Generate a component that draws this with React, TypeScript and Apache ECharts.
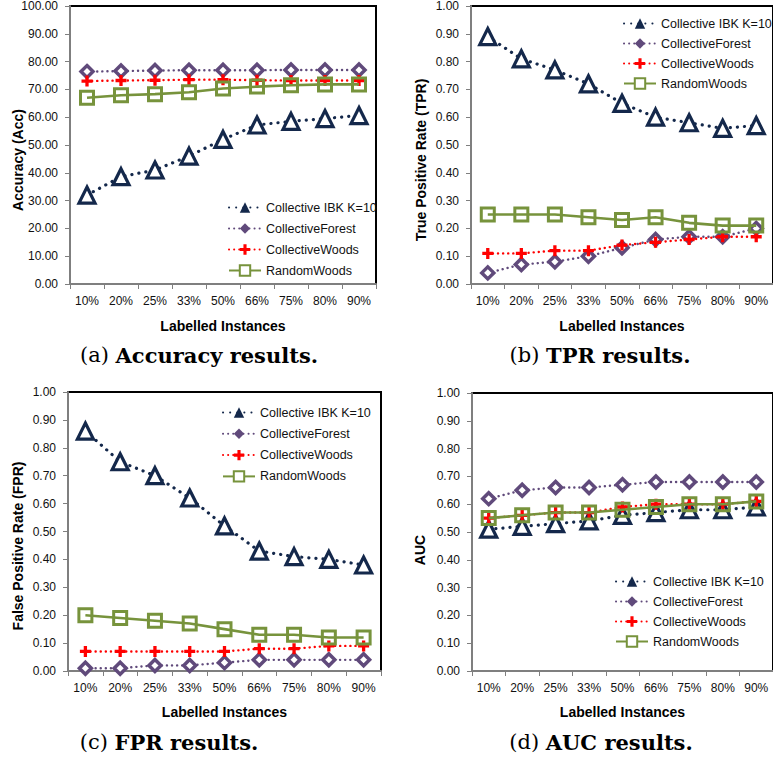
import React, { useEffect, useRef } from "react";
import * as echarts from "echarts";

const categories = ["10%", "20%", "25%", "33%", "50%", "66%", "75%", "80%", "90%"];
const seriesNames = ["Collective IBK K=10", "CollectiveForest", "CollectiveWoods", "RandomWoods"];

// (a) Accuracy
const accIBK = [32.0, 38.6, 41.0, 46.0, 52.0, 57.2, 58.5, 59.5, 60.6];
const accForest = [76.4, 76.6, 76.8, 76.9, 76.9, 76.9, 77.0, 77.0, 77.0];
const accWoods = [73.0, 73.2, 73.3, 73.5, 73.5, 73.3, 73.2, 73.2, 73.2];
const accRandom = [67.0, 67.9, 68.3, 69.0, 70.3, 71.0, 71.5, 71.8, 71.8];

// (b) TPR
const tprIBK = [0.89, 0.81, 0.77, 0.72, 0.65, 0.6, 0.58, 0.56, 0.57];
const tprForest = [0.04, 0.07, 0.08, 0.1, 0.13, 0.16, 0.17, 0.17, 0.2];
const tprWoods = [0.11, 0.11, 0.12, 0.12, 0.14, 0.15, 0.16, 0.17, 0.17];
const tprRandom = [0.25, 0.25, 0.25, 0.24, 0.23, 0.24, 0.22, 0.21, 0.21];

// (c) FPR
const fprIBK = [0.86, 0.75, 0.7, 0.62, 0.52, 0.43, 0.41, 0.4, 0.38];
const fprForest = [0.01, 0.01, 0.02, 0.02, 0.03, 0.04, 0.04, 0.04, 0.04];
const fprWoods = [0.07, 0.07, 0.07, 0.07, 0.07, 0.08, 0.08, 0.09, 0.09];
const fprRandom = [0.2, 0.19, 0.18, 0.17, 0.15, 0.13, 0.13, 0.12, 0.12];

// (d) AUC
const aucIBK = [0.51, 0.52, 0.53, 0.54, 0.56, 0.57, 0.58, 0.58, 0.59];
const aucForest = [0.62, 0.65, 0.66, 0.66, 0.67, 0.68, 0.68, 0.68, 0.68];
const aucWoods = [0.55, 0.56, 0.57, 0.57, 0.59, 0.6, 0.6, 0.6, 0.61];
const aucRandom = [0.55, 0.56, 0.57, 0.57, 0.58, 0.59, 0.6, 0.6, 0.61];

const yAxisNames = ["Accuracy (Acc)", "True Positive Rate (TPR)", "False Positive Rate (FPR)", "AUC"];
const captionLabels = ["(a)", "(b)", "(c)", "(d)"];
const captionTexts = ["Accuracy results.", "TPR results.", "FPR results.", "AUC results."];
const xAxisName = "Labelled Instances";

const NAVY = "#14284b";
const PURPLE = "#604a7b";
const RED = "#ff0000";
const GREEN = "#77933c";
const PLUS = "path://M3.5,0H6.5V3.5H10V6.5H6.5V10H3.5V6.5H0V3.5H3.5Z";

const panels = [
  { data: [accIBK, accForest, accWoods, accRandom], max: 100, interval: 10, grid: { left: 70, top: 6, width: 306, height: 278 } },
  { data: [tprIBK, tprForest, tprWoods, tprRandom], max: 1, interval: 0.1, grid: { left: 471, top: 5, width: 310, height: 279 } },
  { data: [fprIBK, fprForest, fprWoods, fprRandom], max: 1, interval: 0.1, grid: { left: 68, top: 392, width: 313, height: 279 } },
  { data: [aucIBK, aucForest, aucWoods, aucRandom], max: 1, interval: 0.1, grid: { left: 472, top: 393, width: 310, height: 278 } },
];

const legendPos = [
  { left: 228, top: 201, gap: 8 },
  { left: 623, top: 17, gap: 7 },
  { left: 222, top: 406, gap: 8.3 },
  { left: 615, top: 575, gap: 7 },
];
const yNamePos = [
  { x: 18, y: 160 },
  { x: 421, y: 160 },
  { x: 18, y: 546 },
  { x: 420, y: 550 },
];
const captionPos = [
  { x: 199, y: 355 },
  { x: 600, y: 355 },
  { x: 169, y: 742 },
  { x: 601, y: 742 },
];

function seriesStyle(idx: number) {
  switch (idx) {
    case 0:
      return {
        color: NAVY,
        symbol: "triangle",
        symbolSize: 16,
        itemStyle: { color: "#ffffff", borderColor: NAVY, borderWidth: 3.2 },
        lineStyle: { color: NAVY, width: 3.2, type: [0.1, 7], cap: "round" },
      };
    case 1:
      return {
        color: PURPLE,
        symbol: "diamond",
        symbolSize: 12,
        itemStyle: { color: "#ffffff", borderColor: PURPLE, borderWidth: 3.5 },
        lineStyle: { color: PURPLE, width: 2.4, type: [0.1, 5], cap: "round" },
      };
    case 2:
      return {
        color: RED,
        symbol: PLUS,
        symbolSize: 11,
        itemStyle: { color: RED, borderWidth: 0 },
        lineStyle: { color: RED, width: 2.4, type: [0.1, 5], cap: "round" },
      };
    default:
      return {
        color: GREEN,
        symbol: "rect",
        symbolSize: 13,
        itemStyle: { color: "rgba(255,255,255,0)", borderColor: GREEN, borderWidth: 3 },
        lineStyle: { color: GREEN, width: 2.6, type: "solid" },
      };
  }
}

const legendItemStyles = [
  { color: NAVY, borderColor: NAVY, borderWidth: 0 },
  { color: PURPLE, borderColor: PURPLE, borderWidth: 0 },
  { color: RED, borderWidth: 0 },
  { color: "#ffffff", borderColor: GREEN, borderWidth: 2 },
];

export default function App() {
  const ref = useRef<HTMLDivElement>(null);
  useEffect(() => {
    if (!ref.current) return;
    const chart = echarts.init(ref.current, undefined, { renderer: "svg" });
    const grids: any[] = [];
    const xAxes: any[] = [];
    const yAxes: any[] = [];
    const series: any[] = [];
    const legends: any[] = [];
    const graphics: any[] = [];

    panels.forEach((p, pi) => {
      grids.push({
        ...p.grid,
        show: true,
        borderColor: "#000",
        borderWidth: 2,
        backgroundColor: "#fff",
        containLabel: false,
      });
      xAxes.push({
        type: "category",
        gridIndex: pi,
        data: categories,
        boundaryGap: true,
        name: xAxisName,
        nameLocation: "middle",
        nameGap: pi < 2 ? 35 : 34,
        nameTextStyle: { fontFamily: "Liberation Sans", fontWeight: "bold", fontSize: 14, color: "#000" },
        axisLine: { lineStyle: { color: "#7f7f7f", width: 2 } },
        axisTick: { show: true, inside: false, length: 5, lineStyle: { color: "#7f7f7f", width: 1 } },
        axisLabel: { fontFamily: "Liberation Sans", fontSize: 12, color: "#111", margin: 11, interval: 0 },
        splitLine: { show: false },
      });
      yAxes.push({
        type: "value",
        gridIndex: pi,
        min: 0,
        max: p.max,
        interval: p.interval,
        axisLine: { show: true, lineStyle: { color: "#7f7f7f", width: 2 } },
        axisTick: { show: true, inside: false, length: 5, lineStyle: { color: "#7f7f7f", width: 1 } },
        axisLabel: {
          fontFamily: "Liberation Sans",
          fontSize: 12,
          color: "#111",
          margin: 12,
          formatter: (v: number) => v.toFixed(2),
        },
        splitLine: { show: false },
      });
      p.data.forEach((vals, si) => {
        series.push({
          type: "line",
          name: seriesNames[si],
          xAxisIndex: pi,
          yAxisIndex: pi,
          data: vals,
          z: si === 0 ? 2 : si === 1 ? 3 : si === 2 ? 4 : 5,
          ...seriesStyle(si),
        });
      });
      legends.push({
        left: legendPos[pi].left,
        top: legendPos[pi].top,
        padding: 0,
        orient: "vertical",
        itemWidth: 32,
        itemHeight: 13,
        itemGap: legendPos[pi].gap,
        textStyle: { fontFamily: "Liberation Sans", fontSize: 12.5, color: "#111" },
        data: seriesNames.map((n, i) => ({ name: n, itemStyle: legendItemStyles[i] })),
        selectedMode: false,
      });
      graphics.push({
        type: "text",
        x: yNamePos[pi].x,
        y: yNamePos[pi].y,
        rotation: Math.PI / 2,
        style: {
          text: yAxisNames[pi],
          fontFamily: "Liberation Sans",
          fontWeight: "bold",
          fontSize: 14,
          fill: "#000",
          align: "center",
          verticalAlign: "middle",
        },
      });
      graphics.push({
        type: "text",
        x: captionPos[pi].x,
        y: captionPos[pi].y,
        style: {
          text: `{n|${captionLabels[pi]}}  {b|${captionTexts[pi]}}`,
          align: "center",
          verticalAlign: "middle",
          rich: {
            n: { fontFamily: "DejaVu Serif", fontSize: 21, fill: "#000", fontWeight: "normal" },
            b: { fontFamily: "DejaVu Serif", fontSize: 21, fill: "#000", fontWeight: "bold" },
          },
        },
      });
    });

    chart.setOption({
      animation: false,
      backgroundColor: "#fff",
      grid: grids,
      xAxis: xAxes,
      yAxis: yAxes,
      series,
      legend: legends,
      graphic: graphics,
    });
    return () => chart.dispose();
  }, []);
  return (
    <div
      ref={ref}
      style={{ position: "fixed", left: 0, top: 0, width: 773, height: 757, background: "#fff" }}
    />
  );
}
